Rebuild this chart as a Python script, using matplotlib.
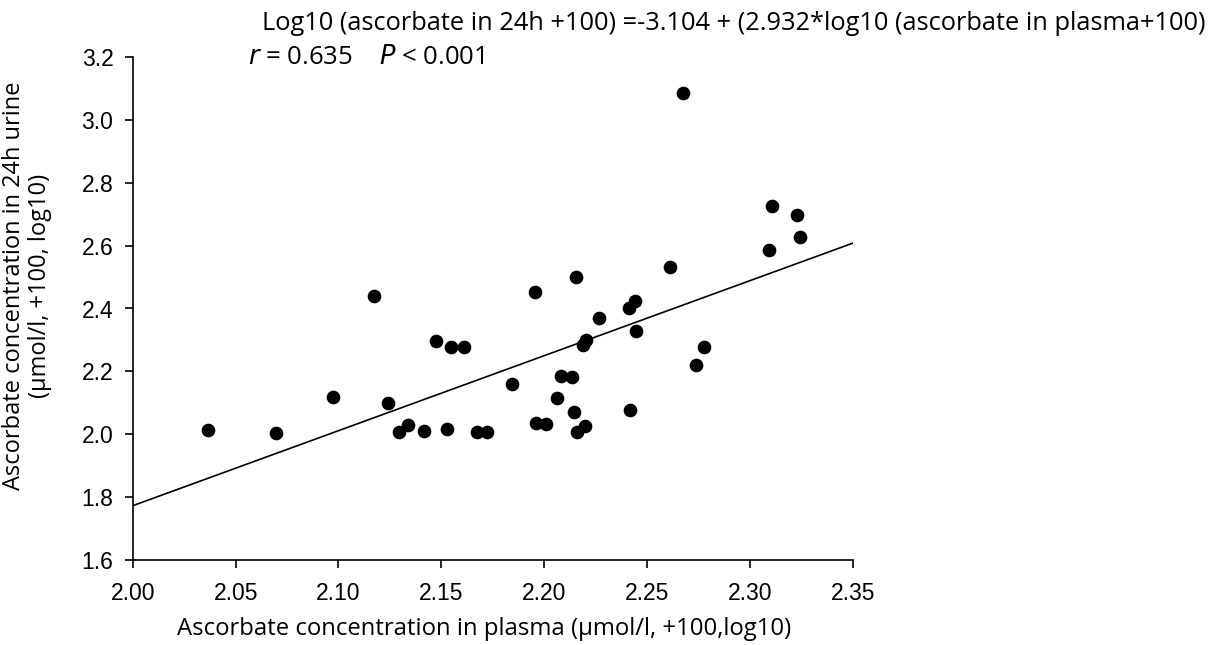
import matplotlib
matplotlib.use("Agg")
import matplotlib.pyplot as plt

# plasma ascorbate (log10, +100) vs 24h urine ascorbate (log10, +100)
plasma = [2.0367, 2.0695, 2.0972, 2.1175, 2.1240, 2.1296, 2.1337, 2.1415,
          2.1475, 2.1527, 2.1548, 2.1610, 2.1673, 2.1724, 2.1844, 2.1956,
          2.1960, 2.2011, 2.2062, 2.2081, 2.2133, 2.2147, 2.2154, 2.2160,
          2.2199, 2.2191, 2.2204, 2.2266, 2.2412, 2.2443, 2.2447, 2.2418,
          2.2611, 2.2673, 2.2739, 2.2775, 2.3091, 2.3110, 2.3231, 2.3245]
urine = [2.013, 2.005, 2.117, 2.441, 2.098, 2.006, 2.029, 2.010,
         2.297, 2.016, 2.277, 2.276, 2.008, 2.008, 2.159, 2.452,
         2.034, 2.032, 2.115, 2.184, 2.182, 2.069, 2.500, 2.008,
         2.026, 2.284, 2.300, 2.369, 2.401, 2.425, 2.327, 2.077,
         2.531, 3.087, 2.219, 2.278, 2.585, 2.727, 2.698, 2.629]

# fitted regression line, end points
fit_x = [2.00, 2.35]
fit_y = [1.772, 2.608]

x_ticks = [2.00, 2.05, 2.10, 2.15, 2.20, 2.25, 2.30, 2.35]
y_ticks = [1.6, 1.8, 2.0, 2.2, 2.4, 2.6, 2.8, 3.0, 3.2]

plt.rcParams["font.family"] = ["Liberation Sans", "DejaVu Sans"]

W, H = 1222, 645
fig = plt.figure(figsize=(W / 100, H / 100), dpi=100)
ax = fig.add_axes([132.8 / W, 1 - 559.7 / H, (852.7 - 132.8) / W, (559.7 - 57.3) / H])

ax.plot(fit_x, fit_y, color="black", lw=1.2)
ax.scatter(plasma, urine, s=78, color="black", zorder=3, clip_on=False)

ax.set_xlim(2.00, 2.35)
ax.set_ylim(1.6, 3.2)
ax.set_xticks(x_ticks)
ax.set_xticklabels([f"{t:.2f}" for t in x_ticks], fontsize=16.5)
ax.set_yticks(y_ticks)
ax.set_yticklabels([f"{t:.1f}" for t in y_ticks], fontsize=16.5)
for side in ("top", "right"):
    ax.spines[side].set_visible(False)
for side in ("left", "bottom"):
    ax.spines[side].set_linewidth(1.2)
ax.tick_params(direction="out", length=6, width=1.2)
ax.tick_params(axis="x", pad=10)
ax.tick_params(axis="y", pad=8)

lab_font = ["Open Sans", "DejaVu Sans"]
fig.text(484 / W, 1 - 629 / H, "Ascorbate concentration in plasma (µmol/l, +100,log10)",
         ha="center", va="center", fontsize=17.2, family=lab_font)
fig.text(14 / W, 1 - 286 / H, "Ascorbate concentration in 24h urine",
         ha="center", va="center", rotation=90, fontsize=17, family=lab_font)
fig.text(40 / W, 1 - 286 / H, "(µmol/l, +100, log10)",
         ha="center", va="center", rotation=90, fontsize=17, family=lab_font)
fig.text(262 / W, 1 - 23 / H,
         "Log10 (ascorbate in 24h +100) =-3.104 + (2.932*log10 (ascorbate in plasma+100)",
         ha="left", va="center", fontsize=18.3, family=lab_font)
fig.text(248 / W, 1 - 58 / H, r"$\it{r}$ = 0.635    $\it{P}$ < 0.001",
         ha="left", va="center", fontsize=18.5, family=lab_font)

fig.savefig("out.png", dpi=100)
